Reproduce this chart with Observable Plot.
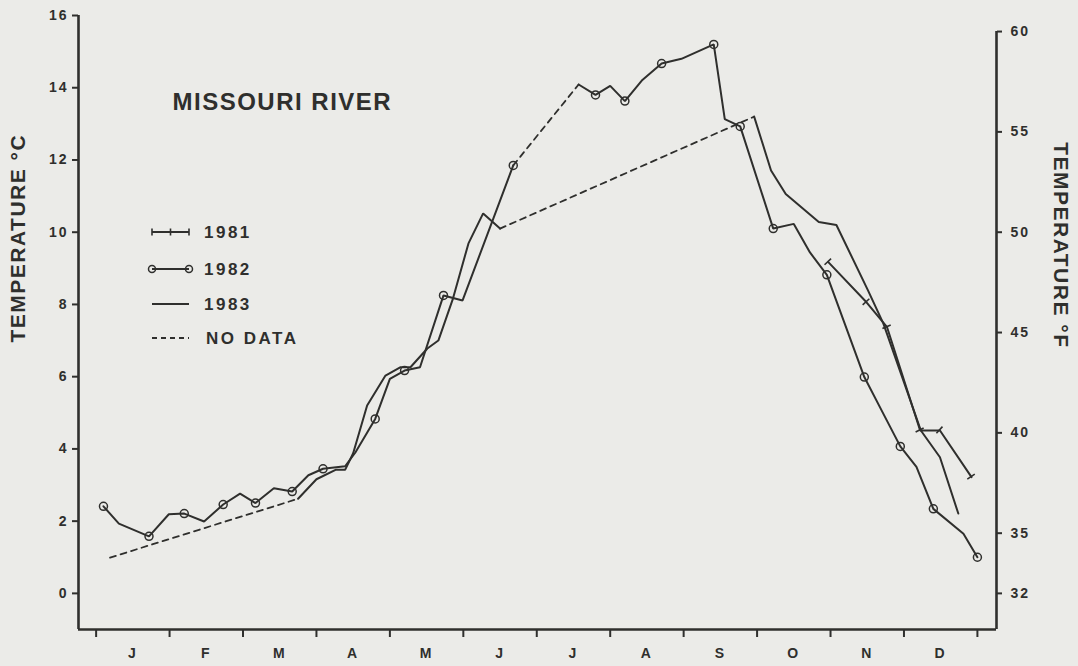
<!DOCTYPE html>
<html><head><meta charset="utf-8">
<script src="https://cdn.jsdelivr.net/npm/d3@7"></script>
<script src="https://cdn.jsdelivr.net/npm/@observablehq/plot@0.6"></script>
<style>
html,body{margin:0;padding:0;background:#ebebe8;}
#chart{position:relative;width:1078px;height:666px;}
</style></head><body><div id="chart"></div>
<script>
// ---------- data (x = month position, 0 = 1 Jan, 12 = 31 Dec; temperatures in °C) ----------
const monthLabels = ["J","F","M","A","M","J","J","A","S","O","N","D"];
const tickC = [0,2,4,6,8,10,12,14,16];
const tickF = [32,35,40,45,50,55,60];
const legendLabels = ["1981","1982","1983","NO DATA"];
const title = "MISSOURI RIVER";

const x1981 = [9.97, 10.49, 10.77, 11.22, 11.49, 11.92];
const t1981 = [9.17, 8.06, 7.37, 4.51, 4.51, 3.22];

const x1982a = [0.10,0.31,0.72,0.99,1.20,1.47,1.73,1.96,2.17,2.42,2.67,2.89,3.09,3.39,3.53,3.80,4.00,4.20,4.41,4.73,4.99,5.68];
const t1982a = [2.41,1.93,1.58,2.19,2.21,1.99,2.46,2.76,2.50,2.91,2.82,3.27,3.45,3.52,3.90,4.83,5.94,6.17,6.26,8.25,8.11,11.85];
const x1982b = [6.57,6.80,7.00,7.20,7.43,7.70,7.97,8.41,8.56,8.77,9.22,9.50,9.72,9.95,10.46,10.72,10.95,11.17,11.40,11.81,12.00];
const t1982b = [14.09,13.80,14.05,13.63,14.20,14.67,14.80,15.20,13.13,12.93,10.10,10.23,9.44,8.82,5.99,4.97,4.07,3.50,2.34,1.65,1.00];
const xCirc1982 = [0.10,0.72,1.20,1.73,2.17,2.67,3.09,3.80,4.20,4.73,5.68,6.80,7.20,7.70,8.41,8.77,9.22,9.95,10.46,10.95,11.40,12.00];
const tCirc1982 = [2.41,1.58,2.21,2.46,2.50,2.82,3.45,4.83,6.17,8.25,11.85,13.80,13.63,14.67,15.20,12.93,10.10,8.82,5.99,4.07,2.34,1.00];

const xNoData1983 = [0.19];
const tNoData1983 = [0.99];
const x1983a = [2.75,3.00,3.26,3.39,3.50,3.69,3.94,4.14,4.28,4.51,4.66,4.86,5.07,5.27,5.50];
const t1983a = [2.62,3.16,3.42,3.42,3.88,5.20,6.03,6.26,6.26,6.78,7.00,8.17,9.69,10.52,10.10];
const x1983b = [8.96,9.19,9.39,9.84,10.08,10.51,10.72,11.23,11.49,11.74];
const t1983b = [13.20,11.71,11.06,10.28,10.20,8.39,7.47,4.51,3.77,2.21];

// ---------- build tables ----------
const rows = (xs, ts, seg) => xs.map((x, i) => ({x, t: ts[i], seg}));
const solid = [
  ...rows(x1981, t1981, "1981"),
  ...rows(x1982a, t1982a, "1982a"),
  ...rows(x1982b, t1982b, "1982b"),
  ...rows(x1983a, t1983a, "1983a"),
  ...rows(x1983b, t1983b, "1983b")
];
const last = a => a[a.length - 1];
const dashed = [
  {x: xNoData1983[0], t: tNoData1983[0], seg: "n1"}, {x: x1983a[0], t: t1983a[0], seg: "n1"},
  {x: last(x1982a), t: last(t1982a), seg: "n2"}, {x: x1982b[0], t: t1982b[0], seg: "n2"},
  {x: last(x1983a), t: last(t1983a), seg: "n3"}, {x: x1983b[0], t: t1983b[0], seg: "n3"}
];
const circles = rows(xCirc1982, tCirc1982, "c");

const f2c = f => (f - 32) * 5 / 9;
const c2f = c => Math.round(c * 9 / 5 + 32);
const ink = "#2f2f2d";
const xDom = [-0.24, 12.26];
const yDom = [-1, 16];
const font = "'Liberation Sans', Arial, Helvetica, sans-serif";

const plot = Plot.plot({
  width: 1078, height: 666,
  marginLeft: 78, marginRight: 82, marginTop: 15, marginBottom: 37,
  x: {domain: xDom},
  y: {domain: yDom},
  style: {fontFamily: font, fontWeight: "bold", fontSize: "14px", color: ink, background: "transparent", overflow: "visible"},
  marks: [
    Plot.axisY(tickC, {anchor: "left", tickSize: 6, tickPadding: 4, label: null, stroke: ink, strokeWidth: 2, fill: ink}),
    Plot.axisY(tickF.map(f2c), {anchor: "right", tickSize: 5, tickPadding: 9, label: null, tickFormat: c2f, stroke: ink, strokeWidth: 2, fill: ink}),
    Plot.axisX(d3.range(13), {anchor: "bottom", tickSize: 8, tickFormat: () => "", label: null, stroke: ink, strokeWidth: 2}),
    Plot.axisX(d3.range(12).map(i => i + 0.5), {anchor: "bottom", tickSize: 0, tickPadding: 19, tickFormat: d => monthLabels[Math.floor(d)], label: null, fill: ink}),
    Plot.ruleY([yDom[0]], {stroke: ink, strokeWidth: 2.6}),
    Plot.ruleX([xDom[0]], {stroke: ink, strokeWidth: 2.6}),
    Plot.ruleX([xDom[1]], {y1: yDom[0], y2: f2c(60), stroke: ink, strokeWidth: 2.6}),
    Plot.line(dashed, {x: "x", y: "t", z: "seg", stroke: ink, strokeWidth: 1.8, strokeDasharray: "6,5"}),
    Plot.line(solid, {x: "x", y: "t", z: "seg", stroke: ink, strokeWidth: 2, strokeLinejoin: "miter"}),
    Plot.dot(circles, {x: "x", y: "t", r: 4, stroke: ink, strokeWidth: 1.5, fill: "none"}),
    Plot.text(["TEMPERATURE °C"], {frameAnchor: "left", dx: -60, dy: 20, rotate: -90, fontSize: 21, fill: ink, className: "ttl"}),
    Plot.text(["TEMPERATURE °F"], {frameAnchor: "right", dx: 64, dy: 26, rotate: 90, fontSize: 21, fill: ink, className: "ttl"}),
    Plot.text([title], {frameAnchor: "top-left", dx: 94, dy: 77, textAnchor: "start", fontSize: 24, fill: ink, className: "main"})
  ]
});
document.getElementById("chart").appendChild(plot);

const svg = d3.select(plot);
svg.selectAll("text").style("letter-spacing", "2px");
svg.selectAll(".ttl text, text.ttl").style("letter-spacing", "1.5px");
svg.selectAll(".main text, text.main").style("letter-spacing", "1.5px");

// 1981 perpendicular tick markers drawn through the plot's scales
const sx = plot.scale("x"), sy = plot.scale("y");
const p81 = x1981.map((x, i) => [sx.apply(x), sy.apply(t1981[i])]);
const gm = svg.append("g").attr("stroke", ink).attr("stroke-width", 1.6);
p81.forEach((p, i) => {
  const a = p81[Math.max(0, i - 1)], b = p81[Math.min(p81.length - 1, i + 1)];
  let dx = b[0] - a[0], dy = b[1] - a[1];
  const L = Math.hypot(dx, dy) || 1; dx /= L; dy /= L;
  const h = 4.5;
  gm.append("line").attr("x1", p[0] - dy * h).attr("y1", p[1] + dx * h)
    .attr("x2", p[0] + dy * h).attr("y2", p[1] - dx * h);
});

// legend
const lg = svg.append("g").attr("font-family", font).attr("font-weight", "bold").attr("font-size", 17)
  .attr("fill", ink).attr("text-anchor", "start");
const rowsY = [232, 269, 304, 338];
const lx0 = 152, lx1 = 189;
legendLabels.forEach((lab, i) => {
  const y = rowsY[i];
  const g = lg.append("g");
  const ln = g.append("line").attr("x1", lx0).attr("x2", lx1).attr("y1", y).attr("y2", y)
    .attr("stroke", ink).attr("stroke-width", 1.8);
  if (i === 0) [lx0, (lx0 + lx1) / 2, lx1].forEach(x => g.append("line").attr("x1", x).attr("x2", x).attr("y1", y - 3.5).attr("y2", y + 3.5).attr("stroke", ink).attr("stroke-width", 1.6));
  if (i === 1) [lx0, lx1].forEach(x => g.append("circle").attr("cx", x).attr("cy", y).attr("r", 3.5).attr("fill", "none").attr("stroke", ink).attr("stroke-width", 1.5));
  if (i === 3) ln.attr("stroke-dasharray", "5,4");
  g.append("text").attr("x", i === 3 ? 206 : 204).attr("y", y + 6).attr("text-anchor", "start").text(lab).style("letter-spacing", "2.5px");
});
</script></body></html>
